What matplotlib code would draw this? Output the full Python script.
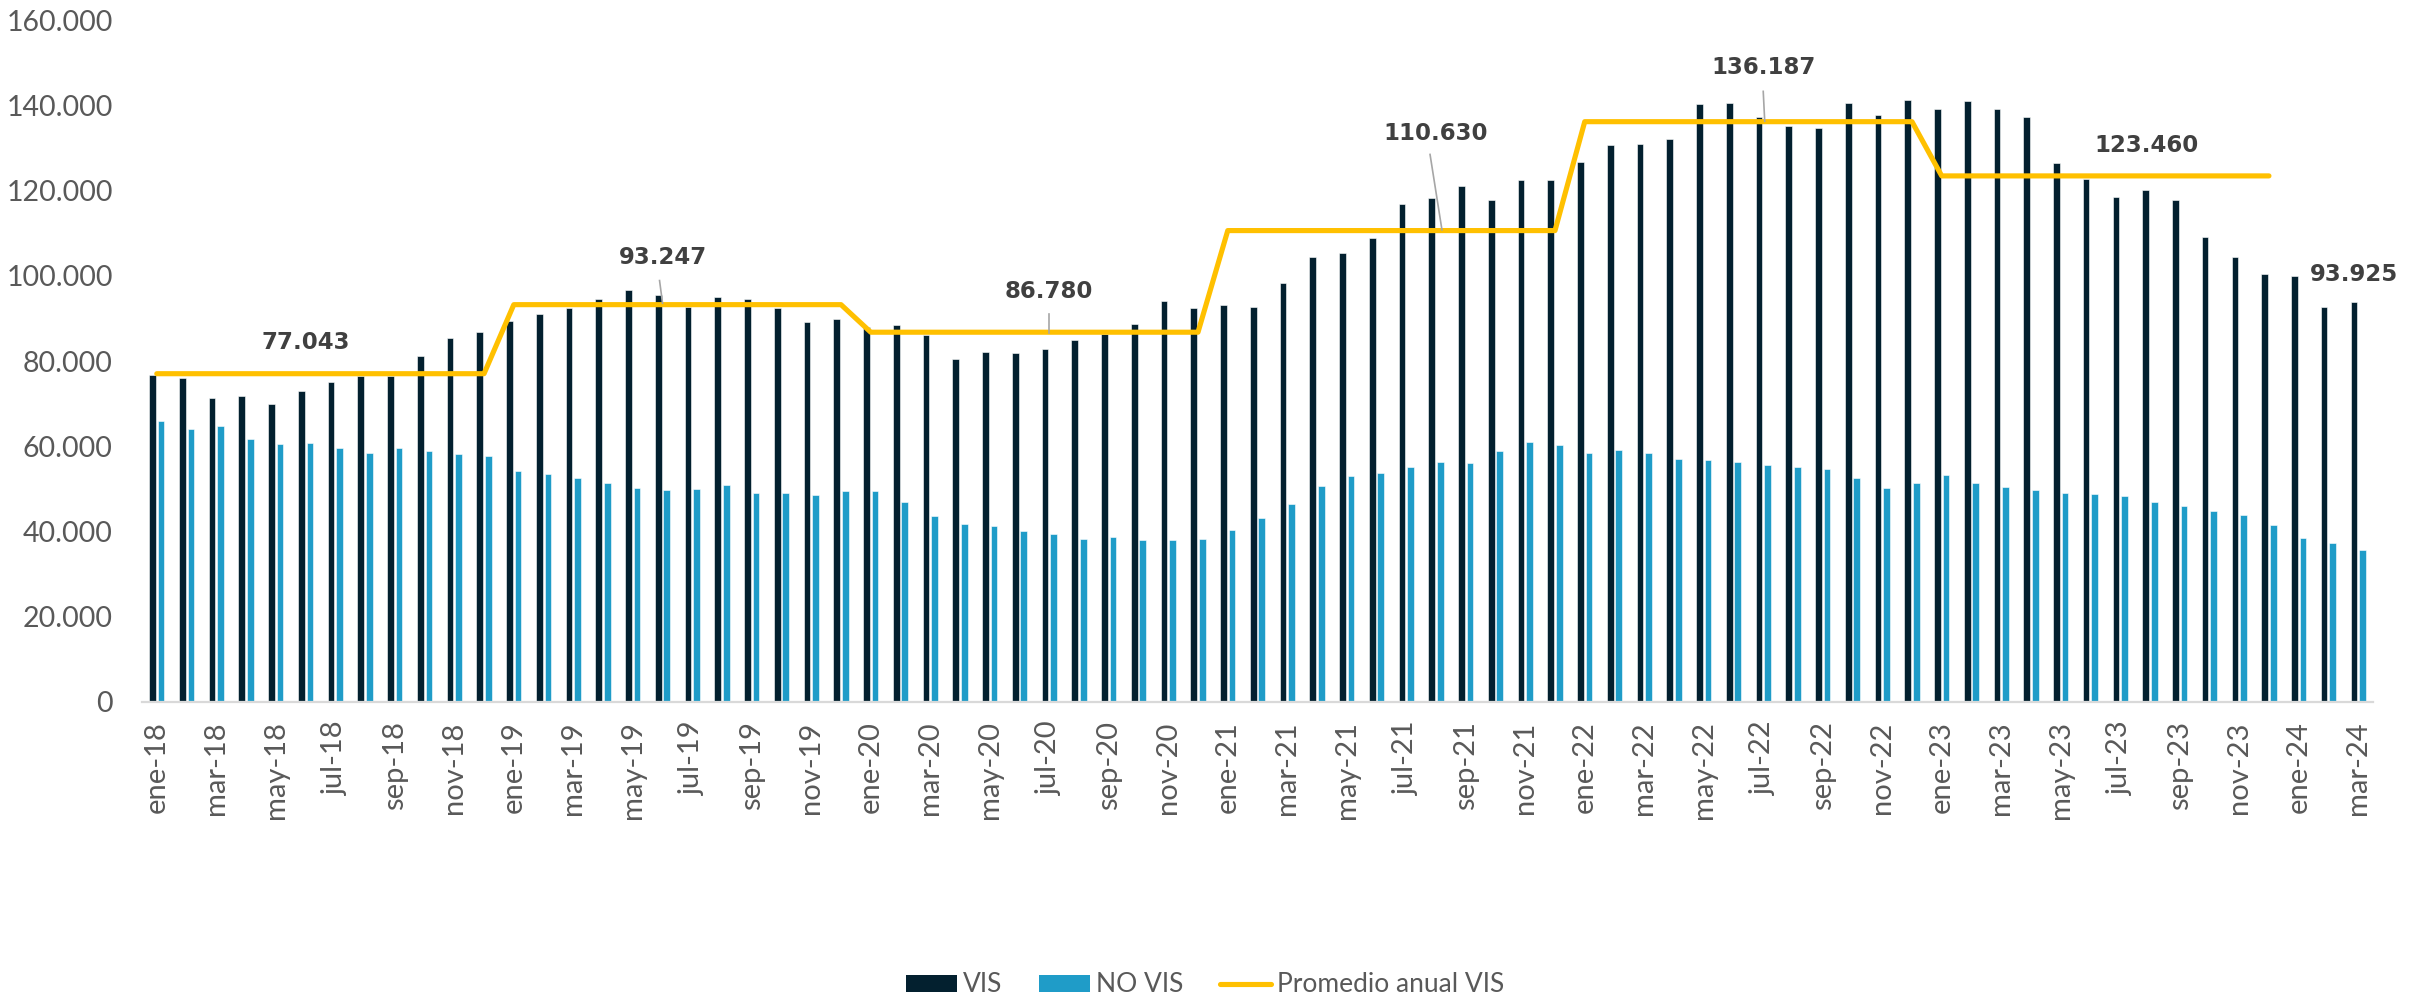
import matplotlib
matplotlib.use("Agg")
import matplotlib.pyplot as plt
from matplotlib.lines import Line2D
from matplotlib.patches import Patch
import numpy as np

# ---------------- data ----------------
months_es = ["ene", "feb", "mar", "abr", "may", "jun", "jul", "ago", "sep", "oct", "nov", "dic"]
years = ["18", "19", "20", "21", "22", "23", "24"]
categories = [f"{m}-{y}" for y in years for m in months_es][:75]   # ene-18 ... mar-24

vis = [
    76800, 76000, 71400, 71700, 69900, 73100, 75100, 76500, 76400, 81100, 85400, 86900,   # 2018
    89300, 91000, 92500, 94600, 96600, 95600, 92800, 95000, 94600, 92500, 89200, 89800,   # 2019
    88000, 88500, 86100, 80500, 82200, 81800, 82800, 84900, 86300, 88700, 94200, 92400,   # 2020
    93100, 92800, 98400, 104400, 105300, 108800, 116900, 118200, 121200, 117800, 122500, 122500,  # 2021
    126700, 130700, 131000, 132100, 140400, 140500, 137200, 135200, 134700, 140600, 137700, 141300,  # 2022
    139100, 141100, 139100, 137200, 126600, 122800, 118500, 120100, 117800, 109200, 104500, 100400,  # 2023
    100000, 92800, 93925,                                                                  # 2024
]
no_vis = [
    65900, 64000, 64800, 61800, 60500, 60700, 59600, 58400, 59600, 58900, 58300, 57800,
    54100, 53600, 52600, 51500, 50200, 49800, 49900, 50900, 49000, 49000, 48500, 49600,
    49600, 46900, 43700, 41700, 41200, 40100, 39400, 38300, 38800, 38000, 38000, 38300,
    40400, 43200, 46400, 50800, 53000, 53700, 55100, 56400, 56200, 58900, 61000, 60200,
    58500, 59100, 58400, 57100, 56900, 56300, 55600, 55200, 54700, 52600, 50200, 51300,
    53300, 51300, 50400, 49800, 49100, 48800, 48300, 47000, 46100, 44800, 43900, 41500,
    38500, 37300, 35600,
]
promedio_anual = [77043, 93247, 86780, 110630, 136187, 123460]   # 2018 ... 2023
promedio_labels = ["77.043", "93.247", "86.780", "110.630", "136.187", "123.460"]
last_label = "93.925"

# ---------------- styling ----------------
C_VIS = "#03202F"
C_NOVIS = "#1F9CC8"
C_LINE = "#FFC000"
C_TXT = "#595959"
C_LBL = "#404040"

plt.rcParams["font.family"] = ["Lato", "DejaVu Sans"]

fig = plt.figure(figsize=(24.22, 10.0), dpi=100)
ax = fig.add_axes([0.0586, 0.298, 0.9212, 0.6818])

n = len(categories)
x = np.arange(n)
w = 0.225
off = 0.145
ax.bar(x - off, vis, width=w, color=C_VIS, edgecolor="white", linewidth=0.4, zorder=2)
ax.bar(x + off, no_vis, width=w, color=C_NOVIS, edgecolor="white", linewidth=0.4, zorder=2)

line_vals = np.full(n, np.nan)
for i, v in enumerate(promedio_anual):
    line_vals[i * 12:(i + 1) * 12] = v
ax.plot(x, line_vals, color=C_LINE, lw=3.7, solid_capstyle="round",
        solid_joinstyle="round", zorder=3)

# data labels on the average line: (month index, label y, leader?)
label_specs = [
    (5, 84300, None),
    (17, 104300, (98900, 93600)),
    (30, 96300, (91100, 86700)),
    (43, 133500, (128500, 110800)),
    (54, 148800, (143300, 136300)),
    (66.9, 130700, None),
]
leader_dx = {1: (-0.1, 0.0), 2: (0.0, 0.0), 3: (-0.2, 0.0), 4: (0.0, 0.05)}
for k, (xi, ly, lead) in enumerate(label_specs):
    ax.text(xi, ly, promedio_labels[k], ha="center", va="center", fontsize=16.5,
            fontweight="bold", color=C_LBL, family="DejaVu Sans", zorder=5)
    if lead is not None:
        dx0, dx1 = leader_dx[k]
        ax.plot([xi + dx0, xi + dx1 + (0.2 if k == 3 else 0.0)], [lead[0], lead[1]],
                color="#A6A6A6", lw=1.2, zorder=4)

ax.text(n - 1 - off, 100400, last_label, ha="center", va="center", fontsize=16.5,
        fontweight="bold", color=C_LBL, family="DejaVu Sans", zorder=5)

# axes
ax.set_xlim(-0.5, n - 0.5)
ax.set_ylim(0, 160000)
yt = np.arange(0, 160001, 20000)
ax.set_yticks(yt)
ax.set_yticklabels([f"{int(v):,}".replace(",", ".") for v in yt])
ax.set_xticks(x[::2])
ax.set_xticklabels(categories[::2], rotation=90)
ax.tick_params(axis="y", length=0, pad=21, labelsize=20.5, labelcolor=C_TXT)
ax.tick_params(axis="x", length=0, pad=14, labelsize=21, labelcolor=C_TXT)
for s in ["top", "right", "left"]:
    ax.spines[s].set_visible(False)
ax.spines["bottom"].set_color("#D9D9D9")
ax.spines["bottom"].set_linewidth(1.6)

handles = [
    Patch(facecolor=C_VIS, edgecolor="none", label="VIS"),
    Patch(facecolor=C_NOVIS, edgecolor="none", label="NO VIS"),
    Line2D([0], [0], color=C_LINE, lw=3.7, solid_capstyle="round", label="Promedio anual VIS"),
]
leg = fig.legend(handles=handles, loc="center", bbox_to_anchor=(0.4975, 0.015), ncol=3,
                 frameon=False, fontsize=19, handlelength=1.95, handleheight=0.6,
                 handletextpad=0.2, columnspacing=1.4, labelcolor=C_TXT)

fig.savefig("out.png", dpi=100, facecolor="white")
